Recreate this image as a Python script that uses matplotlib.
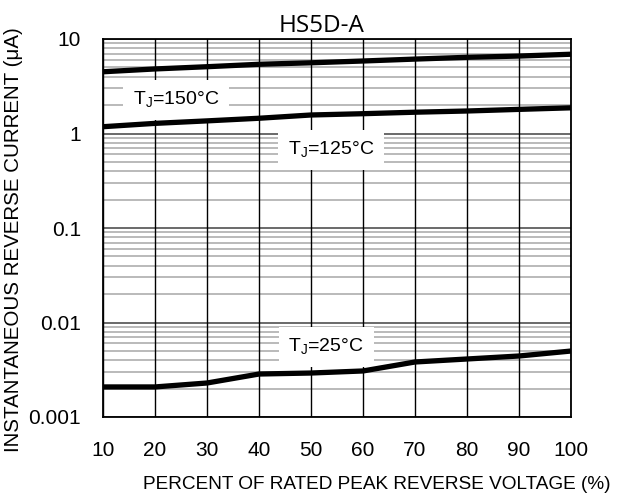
import matplotlib
matplotlib.use('Agg')
import matplotlib.pyplot as plt
from matplotlib.ticker import FixedLocator, NullFormatter

plt.rcParams['font.family'] = ['Liberation Sans', 'DejaVu Sans']

# percent of rated peak reverse voltage
volt = [10, 20, 30, 40, 50, 60, 70, 80, 90, 100]
# reverse current (uA)
i150 = [4.5, 4.82, 5.09, 5.4, 5.6, 5.85, 6.13, 6.4, 6.6, 6.9]
i125 = [1.18, 1.28, 1.36, 1.45, 1.57, 1.62, 1.68, 1.73, 1.80, 1.87]
i25 = [0.00208, 0.00208, 0.00229, 0.00285, 0.00292, 0.00307, 0.00382, 0.00411, 0.00442, 0.00499]

yticks = [0.001, 0.01, 0.1, 1, 10]
ylabels = ['0.001', '0.01', '0.1', '1', '10']

fig = plt.figure(figsize=(6.17, 5), dpi=100)
ax = fig.add_axes([0.167, 0.166, 0.7584, 0.756])
ax.set_yscale('log')
ax.set_xlim(10, 100)
ax.set_ylim(0.001, 10)

# grid
minors = [m * 10.0**e for e in range(-3, 1) for m in range(2, 10)]
for v in minors:
    ax.axhline(v, color='#b4b4b4', lw=1.3, zorder=1)
for v in yticks:
    ax.axhline(v, color='#505050', lw=1.2, zorder=1)
for v in volt:
    ax.axvline(v, color='black', lw=1.0, zorder=1)

ax.plot(volt, i150, color='black', lw=3.8, zorder=4, solid_capstyle='butt')
ax.plot(volt, i125, color='black', lw=3.8, zorder=4, solid_capstyle='butt')
ax.plot(volt, i25, color='black', lw=3.8, zorder=4, solid_capstyle='butt')

box = dict(facecolor='white', edgecolor='none', pad=7)
ax.text(24.0, 2.0, r'T$_\mathregular{J}$=150°C', fontsize=14, ha='center', va='baseline', bbox=box, zorder=3)
ax.text(53.8, 0.59, r'T$_\mathregular{J}$=125°C', fontsize=14, ha='center', va='baseline', bbox=box, zorder=3)
ax.text(52.9, 0.0049, r'T$_\mathregular{J}$=25°C', fontsize=14, ha='center', va='baseline', bbox=box, zorder=3)

ax.xaxis.set_major_locator(FixedLocator(volt))
ax.set_xticklabels([str(v) for v in volt])
ax.yaxis.set_major_locator(FixedLocator(yticks))
ax.set_yticklabels(ylabels)
ax.yaxis.set_minor_formatter(NullFormatter())
ax.tick_params(which='both', length=0)
ax.tick_params(axis='x', labelsize=15, pad=17)
ax.tick_params(axis='y', labelsize=15, pad=16)
for s in ax.spines.values():
    s.set_linewidth(1.3)

ax.set_title('HS5D-A', fontsize=17.5, family=['Open Sans', 'DejaVu Sans'], pad=5)
ax.title.set_x(0.466)
ax.set_xlabel('PERCENT OF RATED PEAK REVERSE VOLTAGE (%)', fontsize=13.7, labelpad=10)
ax.xaxis.set_label_coords(0.585, -0.155)
ax.set_ylabel('INSTANTANEOUS REVERSE CURRENT (\u03bcA)', fontsize=14.8)
ax.yaxis.set_label_coords(-0.172, 0.468)

fig.savefig('out.png', dpi=100)
